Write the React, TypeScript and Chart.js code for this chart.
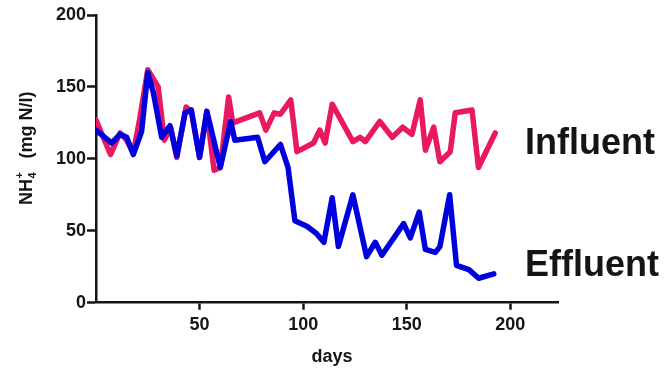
import React, { useEffect, useRef } from 'react';
import { Chart, registerables } from 'chart.js';

Chart.register(...registerables);

// ---- data ----
const effluentDays = [0, 7.6, 11.6, 14.8, 18, 22, 25, 27.7, 31.7, 35.7, 39, 43, 46, 50, 53.5, 60, 65, 67, 78, 81.5, 89, 92.7, 96, 102, 106.5, 110, 114, 117, 124, 130.6, 134.8, 138, 148.5, 151.7, 156, 159, 163.8, 166, 170.7, 174, 180, 184.7, 192];
const effluentValues = [120, 111, 117, 115, 103, 119, 160, 146, 115, 123, 102, 132, 134, 101, 133, 94, 126, 113, 115, 98, 110, 94, 57, 53, 48, 42, 73, 39, 75, 32, 42, 33, 55, 45, 63, 37, 35, 39, 75, 26, 23, 17, 20];

const influentDays = [0, 7, 11.6, 14.8, 18, 21, 25, 30, 33, 36, 39, 43.5, 46, 50, 53.5, 57, 60, 64, 66, 79, 82, 86, 89, 94, 97, 105, 108, 110.6, 114, 124, 127.5, 130, 137, 143, 148, 152.5, 156.5, 159, 163, 166, 171, 173.4, 181.5, 184.6, 192.7];
const influentValues = [127, 103, 118, 113, 104, 127, 162, 150, 113, 122, 101, 136, 133, 101, 133, 92, 94, 143, 125, 132, 120, 132, 131, 141, 105, 111, 120, 111, 138, 112, 115, 112, 126, 115, 122, 117, 141, 106, 122, 98, 105, 132, 134, 94, 118];

const yTickValues = [0, 50, 100, 150, 200];
const xTickValues = [50, 100, 150, 200];
const seriesNames = ['Effluent', 'Influent'];
const xTitle = 'days';
const yTitleMain = 'NH';
const yTitleSub = '4';
const yTitleSup = '+';
const yTitleUnit = '(mg N/l)';

const FONT = '"Liberation Sans", Arial, Helvetica, sans-serif';
const INK = '#151515';
const BLUE = '#0000DC';
const PINK = '#EA1863';

export default function App() {
  const ref = useRef<HTMLCanvasElement | null>(null);

  useEffect(() => {
    if (!ref.current) return;

    const textPlugin = {
      id: 'textPlugin',
      afterDraw(chart: any) {
        const ctx = chart.ctx as CanvasRenderingContext2D;
        ctx.save();
        ctx.fillStyle = INK;

        // series labels
        ctx.font = `bold 36px ${FONT}`;
        ctx.textAlign = 'left';
        ctx.textBaseline = 'alphabetic';
        ctx.fillText(seriesNames[1], 525, 154);
        ctx.fillText(seriesNames[0], 525, 276);

        // x title
        ctx.font = `bold 18px ${FONT}`;
        ctx.textAlign = 'center';
        ctx.fillText(xTitle, 332, 362);

        // y title (rotated, with sub/superscript)
        ctx.translate(32, 205);
        ctx.rotate(-Math.PI / 2);
        ctx.textAlign = 'left';
        ctx.font = `bold 18px ${FONT}`;
        ctx.fillText(yTitleMain, 0, 0);
        const wMain = ctx.measureText(yTitleMain).width;
        ctx.font = `bold 11px ${FONT}`;
        ctx.fillText(yTitleSub, wMain + 0.5, 4);
        ctx.fillText(yTitleSup, wMain + 0.5, -9);
        const wSmall = Math.max(ctx.measureText(yTitleSub).width, ctx.measureText(yTitleSup).width);
        ctx.font = `bold 18px ${FONT}`;
        ctx.fillText(yTitleUnit, wMain + wSmall + 14, 0);
        ctx.restore();
      },
    };

    const chart = new Chart(ref.current, {
      type: 'line',
      data: {
        datasets: [
          {
            label: seriesNames[0],
            data: effluentDays.map((d, i) => ({ x: d, y: effluentValues[i] })),
            borderColor: BLUE,
            backgroundColor: BLUE,
            borderWidth: 5.5,
            pointRadius: 0,
            tension: 0,
            borderJoinStyle: 'round',
            borderCapStyle: 'round',
          },
          {
            label: seriesNames[1],
            data: influentDays.map((d, i) => ({ x: d, y: influentValues[i] })),
            borderColor: PINK,
            backgroundColor: PINK,
            borderWidth: 5.5,
            pointRadius: 0,
            tension: 0,
            borderJoinStyle: 'round',
            borderCapStyle: 'round',
          },
        ],
      },
      options: {
        animation: false,
        responsive: false,
        maintainAspectRatio: false,
        layout: { padding: { left: 0, top: 15, right: 110, bottom: 0 } },
        plugins: {
          legend: { display: false },
          tooltip: { enabled: false },
        },
        scales: {
          x: {
            type: 'linear',
            min: 0,
            max: 223,
            afterFit: (s: any) => { s.height = 67.3; },
            afterBuildTicks: (s: any) => { s.ticks = xTickValues.map((v) => ({ value: v })); },
            grid: {
              display: true,
              drawOnChartArea: false,
              drawTicks: true,
              tickLength: 7,
              tickWidth: 2.5,
              tickColor: INK,
            },
            border: { display: true, color: INK, width: 2.5 },
            ticks: {
              color: INK,
              padding: 5,
              maxRotation: 0,
              font: { family: FONT, size: 18, weight: 'bold' },
            },
          },
          y: {
            type: 'linear',
            min: 0,
            max: 200,
            afterFit: (s: any) => { s.width = 96; },
            afterBuildTicks: (s: any) => { s.ticks = yTickValues.map((v) => ({ value: v })); },
            grid: {
              display: true,
              drawOnChartArea: false,
              drawTicks: true,
              tickLength: 9,
              tickWidth: 2.5,
              tickColor: INK,
            },
            border: { display: true, color: INK, width: 2.5 },
            ticks: {
              color: INK,
              padding: 1,
              font: { family: FONT, size: 18, weight: 'bold' },
            },
          },
        },
      },
      plugins: [textPlugin],
    } as any);

    return () => chart.destroy();
  }, []);

  return (
    <div style={{ position: 'fixed', left: 0, top: 0, width: 668, height: 370, background: '#fff' }}>
      <canvas ref={ref} width={668} height={370} style={{ width: 668, height: 370, display: 'block' }} />
    </div>
  );
}
